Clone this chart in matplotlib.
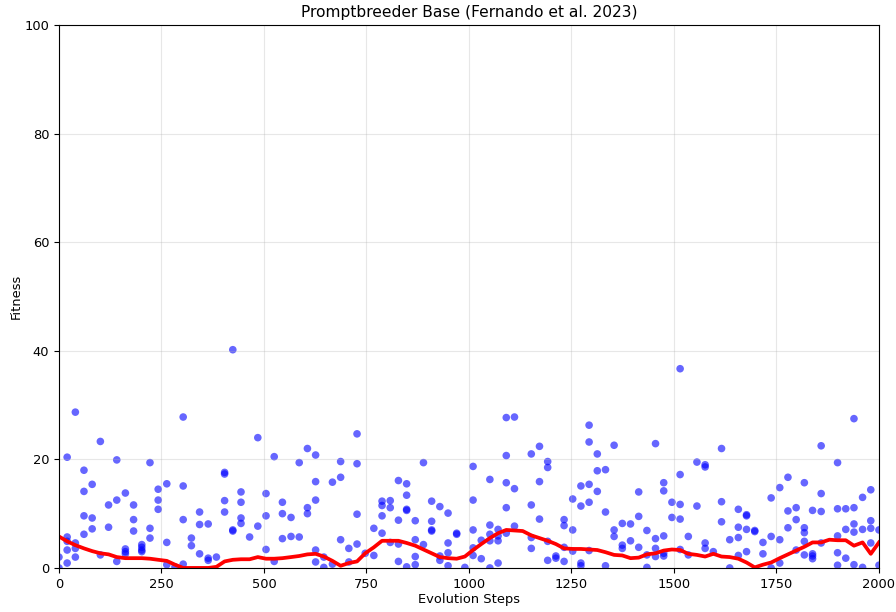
import matplotlib
matplotlib.use("Agg")
import matplotlib.pyplot as plt
import numpy as np

# evolution steps (100 generations over 0..2000)
steps = [0, 20, 40, 61, 81, 101, 121, 141, 162, 182,
         202, 222, 242, 263, 283, 303, 323, 343, 364, 384,
         404, 424, 444, 465, 485, 505, 525, 545, 566, 586,
         606, 626, 646, 667, 687, 707, 727, 747, 768, 788,
         808, 828, 848, 869, 889, 909, 929, 949, 970, 990,
         1010, 1030, 1051, 1071, 1091, 1111, 1131, 1152, 1172, 1192,
         1212, 1232, 1253, 1273, 1293, 1313, 1333, 1354, 1374, 1394,
         1414, 1434, 1455, 1475, 1495, 1515, 1535, 1556, 1576, 1596,
         1616, 1636, 1657, 1677, 1697, 1717, 1737, 1758, 1778, 1798,
         1818, 1838, 1859, 1879, 1899, 1919, 1939, 1960, 1980, 2000]

# fitness of the population members at each step
fitness = [
    [2.0, 0.0], [20.4, 5.7, 4.9, 3.3, 0.9], [28.7, 4.6, 3.6, 2.0], [18.0, 14.1, 9.6, 6.2],
    [15.4, 9.2, 7.2], [23.3, 2.4], [11.6, 7.5], [19.9, 12.5, 1.2],
    [13.8, 3.5, 3.0, 2.6], [11.6, 8.9, 6.8], [4.3, 3.8, 3.3, 3.0], [19.4, 7.3, 5.5],
    [14.5, 12.5, 10.8], [15.5, 4.7, 0.6], [0.2], [27.8, 15.1, 8.9, 0.7],
    [5.5, 4.1], [10.3, 8.0, 2.6], [8.1, 1.8, 1.4], [2.0],
    [17.6, 17.3, 12.4, 10.3], [40.2, 7.0, 6.8], [14.0, 12.1, 9.2, 8.2], [5.7],
    [24.0, 7.7], [13.7, 9.6, 3.4], [20.5, 1.2], [12.1, 10.0, 5.4],
    [9.3, 5.8], [19.4, 5.7], [22.0, 11.1, 10.0], [20.8, 15.9, 12.5, 3.3, 1.1],
    [2.0, 0.1], [15.8, 0.7], [19.6, 16.7, 5.2], [3.6, 1.1],
    [24.7, 19.2, 9.9, 4.4], [2.7], [7.3, 2.3], [12.3, 11.5, 9.6, 6.4],
    [12.4, 11.1, 4.7], [16.1, 8.8, 4.4, 1.2], [15.5, 13.4, 10.8, 10.6, 0.2], [8.7, 5.2, 2.1, 0.6],
    [19.4, 4.3], [12.3, 8.6, 7.0, 6.8], [11.3, 2.2, 1.4], [10.1, 4.6, 2.8, 0.4],
    [6.4, 6.2], [0.1], [18.7, 12.5, 7.0, 3.7, 2.3], [5.1, 1.7],
    [16.3, 7.9, 6.2, 5.0, 0.0], [7.1, 5.9, 5.0, 0.9], [27.7, 20.7, 15.7, 11.1, 6.4], [27.8, 14.6, 7.7],
    [], [21.0, 11.6, 5.6, 3.6], [22.4, 15.9, 9.0], [19.6, 18.5, 4.9, 1.4],
    [2.2, 1.8], [8.9, 7.8, 3.8, 1.2], [12.7, 7.0, 3.1], [15.1, 11.4, 0.9, 0.4],
    [26.3, 23.2, 15.4, 12.1, 3.2], [21.0, 17.9, 14.1], [18.1, 10.3, 0.4], [22.6, 7.0, 5.8],
    [8.2, 4.2, 3.6], [8.1, 5.0], [14.0, 9.5, 3.8], [6.9, 2.4, 0.1],
    [22.9, 5.4, 3.6, 2.1], [15.7, 14.2, 5.9, 2.7, 2.2], [12.1, 9.3], [36.7, 17.2, 11.7, 9.0, 3.4],
    [5.8, 2.4], [19.5, 11.4], [19.0, 18.6, 4.6, 3.6], [3.0],
    [22.0, 12.2, 8.5], [5.2, 0.0], [10.8, 7.5, 5.6, 2.3], [9.8, 9.6, 7.1, 3.0],
    [6.9, 6.7], [4.7, 2.6], [12.9, 5.8, 0.0], [14.8, 5.2, 0.9],
    [16.7, 10.5, 7.4], [11.1, 8.9, 3.3], [15.7, 7.4, 6.5, 4.9, 2.4], [10.6, 2.6, 2.2, 1.7],
    [22.5, 13.7, 10.4, 4.6], [], [19.4, 10.9, 5.9, 2.8, 0.5], [10.9, 7.1, 1.8],
    [27.5, 11.1, 8.1, 6.6, 0.6], [13.0, 7.1, 0.1], [14.4, 8.7, 7.3, 4.6], [7.0, 0.5],
]

# smoothed trend line
trend = [5.8, 4.9, 4.2, 3.6, 3.1, 2.7, 2.5, 2.0, 1.8, 1.8,
         1.8, 1.7, 1.5, 1.3, 0.6, 0.0, 0.0, 0.0, 0.0, 0.2,
         1.2, 1.5, 1.6, 1.6, 2.0, 1.7, 1.7, 1.8, 2.0, 2.2,
         2.5, 2.6, 2.1, 1.3, 0.4, 0.9, 1.2, 2.7, 3.8, 5.0,
         5.0, 5.0, 4.6, 4.1, 3.4, 2.7, 2.0, 1.8, 1.7, 2.1,
         3.3, 4.4, 5.5, 6.4, 7.0, 6.9, 6.8, 6.0, 5.5, 5.0,
         4.4, 3.6, 3.5, 3.5, 3.4, 3.3, 2.9, 2.4, 2.3, 1.8,
         1.9, 2.5, 2.7, 3.2, 3.4, 3.3, 2.6, 2.4, 2.1, 2.6,
         2.1, 2.0, 1.7, 1.0, 0.1, 0.6, 1.0, 1.8, 2.5, 3.2,
         3.9, 4.7, 4.7, 5.2, 5.1, 5.1, 4.1, 4.7, 2.6, 4.7]

pt_x = np.repeat(steps, [len(f) for f in fitness])
pt_y = np.concatenate([np.array(f, dtype=float) for f in fitness])

plt.rcParams['font.size'] = 9.4

fig, ax = plt.subplots(figsize=(8.96, 6.12), dpi=100)
ax.scatter(pt_x, pt_y, color='blue', alpha=0.6, s=30, edgecolors='none')
ax.plot(steps, trend, color='red', linewidth=2.7)
ax.set_xlim(0, 2000)
ax.set_ylim(0, 100)
ax.set_title('Promptbreeder Base (Fernando et al. 2023)', fontsize=11.2)
ax.set_xlabel('Evolution Steps', labelpad=2)
ax.set_ylabel('Fitness', labelpad=1.5)
ax.grid(True, alpha=0.3)
fig.subplots_adjust(left=0.0658, right=0.981, top=0.959, bottom=0.072)
fig.savefig('out.png')
